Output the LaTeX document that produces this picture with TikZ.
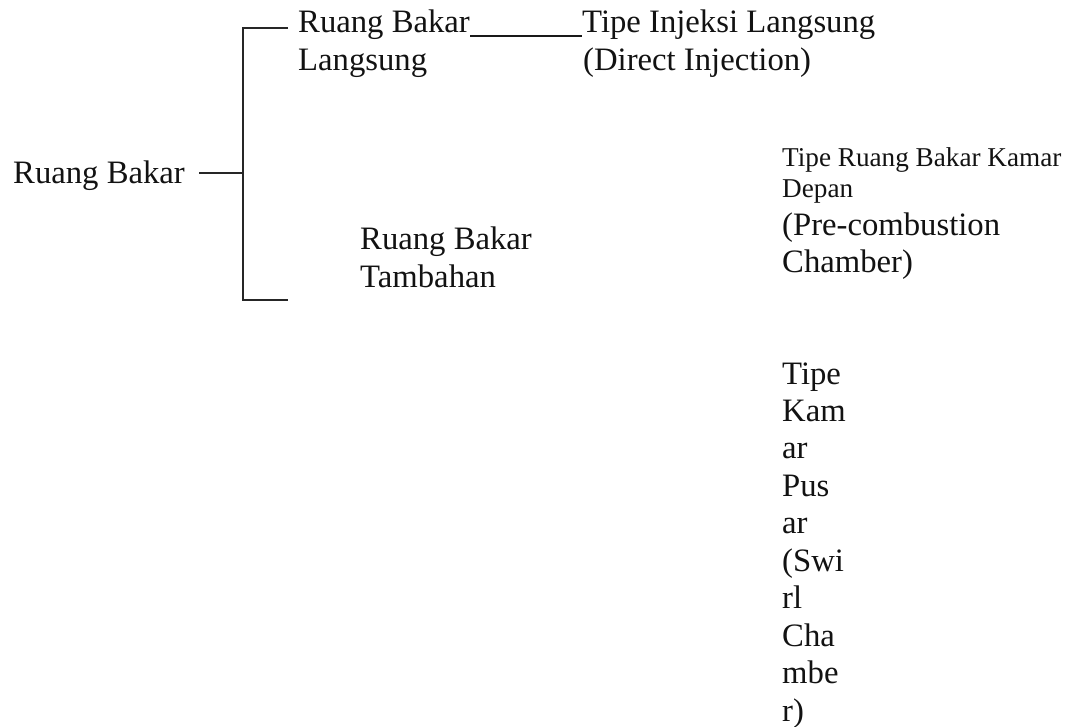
\documentclass[tikz,border=0pt]{standalone}
\usepackage{fontspec}
\setmainfont{Liberation Serif}
\begin{document}
\begin{tikzpicture}[x=1pt,y=1pt,
  big/.style={inner sep=0pt, anchor=base west, font=\fontsize{32.7}{38}\selectfont, text=black!93},
  small/.style={inner sep=0pt, anchor=base west, font=\fontsize{27.2}{31}\selectfont, text=black!93},
  conn/.style={line width=1.6pt, draw=black!85}]
\useasboundingbox (0,0) rectangle (1079,-727);
% root
\node[big] (root) at (13,-184) {Ruang Bakar};
% child 1
\node[big] (c1a) at (298,-33) {Ruang Bakar};
\node[big] (c1b) at (298,-71) {Langsung};
% direct injection
\node[big] (d1a) at (582,-33) {Tipe Injeksi Langsung};
\node[big] (d1b) at (583,-71) {(Direct Injection)};
% child 2
\node[big] (c2a) at (360,-250) {Ruang Bakar};
\node[big] (c2b) at (360,-288) {Tambahan};
% pre-combustion
\node[small] (p1) at (782,-167) {Tipe Ruang Bakar Kamar};
\node[small] (p2) at (782,-198) {Depan};
\node[big] (p3) at (782,-236) {(Pre-combustion};
\node[big] (p4) at (782,-273) {Chamber)};
% swirl
\node[big] (s1) at (782,-384) {Tipe};
\node[big] (s2) at (782,-421) {Kam};
\node[big] (s3) at (782,-458) {ar};
\node[big] (s4) at (782,-496) {Pus};
\node[big] (s5) at (782,-533) {ar};
\node[big] (s6) at (782,-571) {(Swi};
\node[big] (s7) at (782,-608) {rl};
\node[big] (s8) at (782,-646) {Cha};
\node[big] (s9) at (782,-683) {mbe};
\node[big] (s10) at (782,-721) {r)};
% connectors
\coordinate (j) at (243,-173);
\coordinate (top) at (243,-28);
\coordinate (bot) at (243,-300);
\coordinate (rootend) at (199,-173);
\coordinate (topend) at (288,-28);
\coordinate (botend) at (288,-300);
\draw[conn] (rootend) -- (j);
\draw[conn] (topend) -- (top) -- (bot) -- (botend);
\draw[line width=2.4pt, draw=black!90] (c1a.east |- 0,-36) -- (d1a.west |- 0,-36);
\end{tikzpicture}
\end{document}
